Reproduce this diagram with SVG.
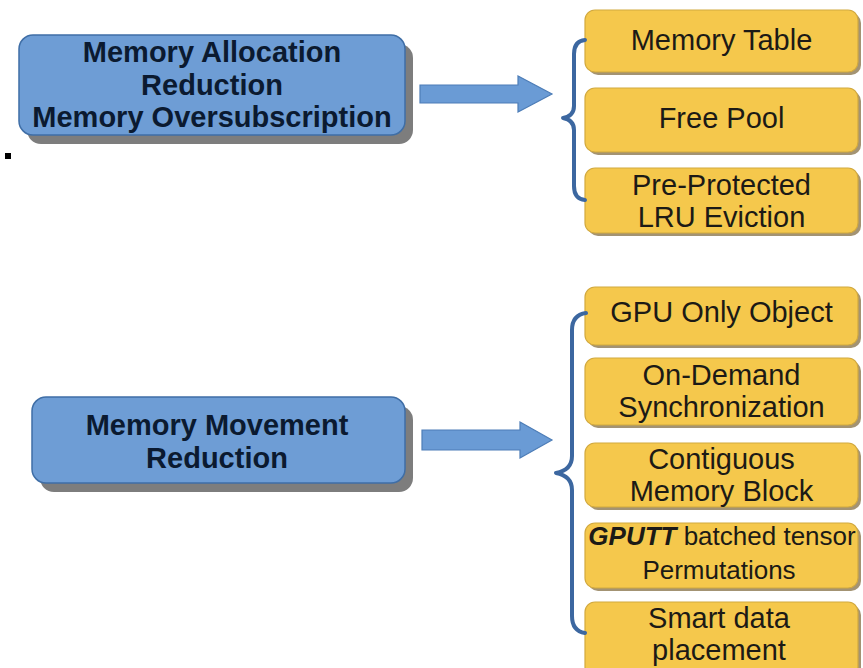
<svg xmlns="http://www.w3.org/2000/svg" width="863" height="668" viewBox="0 0 863 668">
  <style>
    .blue { fill: #6e9dd5; stroke: #3f6ea6; stroke-width: 1.5; }
    .blue-shadow { fill: #7d7d7d; }
    .yellow { fill: #f5c84c; stroke: #d2a93e; stroke-width: 1.2; }
    .yellow-shadow { fill: #a39373; }
    .btxt { font-family: "Liberation Sans", Arial, sans-serif; font-weight: bold; font-size: 29px; fill: #0b1a30; text-anchor: middle; }
    .ytxt { font-family: "Liberation Sans", Arial, sans-serif; font-size: 29px; fill: #1c1a16; text-anchor: middle; }
    .ytxt-sm { font-family: "Liberation Sans", Arial, sans-serif; font-size: 26px; fill: #1c1a16; text-anchor: middle; }
    .arrow { fill: #6a9bd5; stroke: #4d7db7; stroke-width: 1.2; }
    .brace { fill: none; stroke: #3c67a0; stroke-width: 4; stroke-linecap: round; stroke-linejoin: round; }
  </style>

  <rect width="863" height="668" fill="#ffffff"/>

  <!-- stray bullet mark -->
  <rect x="5" y="153" width="6" height="6" fill="#000000"/>

  <!-- left-hand category boxes -->
  <g id="alloc-reduction">
    <rect class="blue-shadow" x="27" y="44" width="386" height="100" rx="14"/>
    <rect class="blue" x="19" y="35" width="386" height="100" rx="14"/>
    <text class="btxt" x="212" y="62">Memory Allocation</text>
    <text class="btxt" x="212" y="95">Reduction</text>
    <text class="btxt" x="212" y="127">Memory Oversubscription</text>
  </g>

  <g id="movement-reduction">
    <rect class="blue-shadow" x="40" y="406" width="373" height="86" rx="14"/>
    <rect class="blue" x="32" y="397" width="373" height="86" rx="14"/>
    <text class="btxt" x="217" y="435">Memory Movement</text>
    <text class="btxt" x="217" y="468">Reduction</text>
  </g>

  <!-- right-hand technique boxes -->
  <g id="memory-table">
    <rect class="yellow-shadow" x="588" y="13" width="273" height="62" rx="10"/>
    <rect class="yellow" x="585" y="10" width="273" height="62" rx="10"/>
    <text class="ytxt" x="721.5" y="50">Memory Table</text>
  </g>

  <g id="free-pool">
    <rect class="yellow-shadow" x="588" y="91" width="273" height="64" rx="10"/>
    <rect class="yellow" x="585" y="88" width="273" height="64" rx="10"/>
    <text class="ytxt" x="721.5" y="128">Free Pool</text>
  </g>

  <g id="lru-eviction">
    <rect class="yellow-shadow" x="588" y="171" width="273" height="65" rx="10"/>
    <rect class="yellow" x="585" y="168" width="273" height="65" rx="10"/>
    <text class="ytxt" x="721.5" y="195">Pre-Protected</text>
    <text class="ytxt" x="721.5" y="227">LRU Eviction</text>
  </g>

  <g id="gpu-only-object">
    <rect class="yellow-shadow" x="588" y="290" width="273" height="58" rx="10"/>
    <rect class="yellow" x="585" y="287" width="273" height="58" rx="10"/>
    <text class="ytxt" x="721.5" y="322">GPU Only Object</text>
  </g>

  <g id="on-demand-sync">
    <rect class="yellow-shadow" x="588" y="361" width="273" height="67" rx="10"/>
    <rect class="yellow" x="585" y="358" width="273" height="67" rx="10"/>
    <text class="ytxt" x="721.5" y="385">On-Demand</text>
    <text class="ytxt" x="721.5" y="417">Synchronization</text>
  </g>

  <g id="contiguous-block">
    <rect class="yellow-shadow" x="588" y="446" width="273" height="64" rx="10"/>
    <rect class="yellow" x="585" y="443" width="273" height="64" rx="10"/>
    <text class="ytxt" x="721.5" y="469">Contiguous</text>
    <text class="ytxt" x="721.5" y="501">Memory Block</text>
  </g>

  <g id="gputt-permutations">
    <rect class="yellow-shadow" x="588" y="526" width="273" height="65" rx="10"/>
    <rect class="yellow" x="585" y="523" width="273" height="65" rx="10"/>
    <text class="ytxt-sm" x="722" y="545"><tspan font-weight="bold" font-style="italic">GPUTT</tspan> batched tensor</text>
    <text class="ytxt-sm" x="719" y="579">Permutations</text>
  </g>

  <g id="smart-placement">
    <rect class="yellow-shadow" x="588" y="605" width="273" height="75" rx="10"/>
    <rect class="yellow" x="585" y="602" width="273" height="75" rx="10"/>
    <text class="ytxt" x="719" y="628">Smart data</text>
    <text class="ytxt" x="719" y="660">placement</text>
  </g>

  <!-- connectors: block arrows and grouping braces -->
  <g id="connectors">
    <polygon class="arrow" points="420,85 518,85 518,76 552,94 518,112 518,103 420,103"/>
    <polygon class="arrow" points="422,430 520,430 520,422 552,440 520,458 520,450 422,450"/>
    <path class="brace" d="M585,40 Q574,41 574,54 L574,106 Q574,116 563,118 Q574,120 574,130 L574,186 Q574,199 585,200"/>
    <path class="brace" d="M586,313 Q572,315 572,330 L572,456 Q572,470 556,473 Q572,476 572,490 L572,616 Q572,631 585,633"/>
  </g>
</svg>
